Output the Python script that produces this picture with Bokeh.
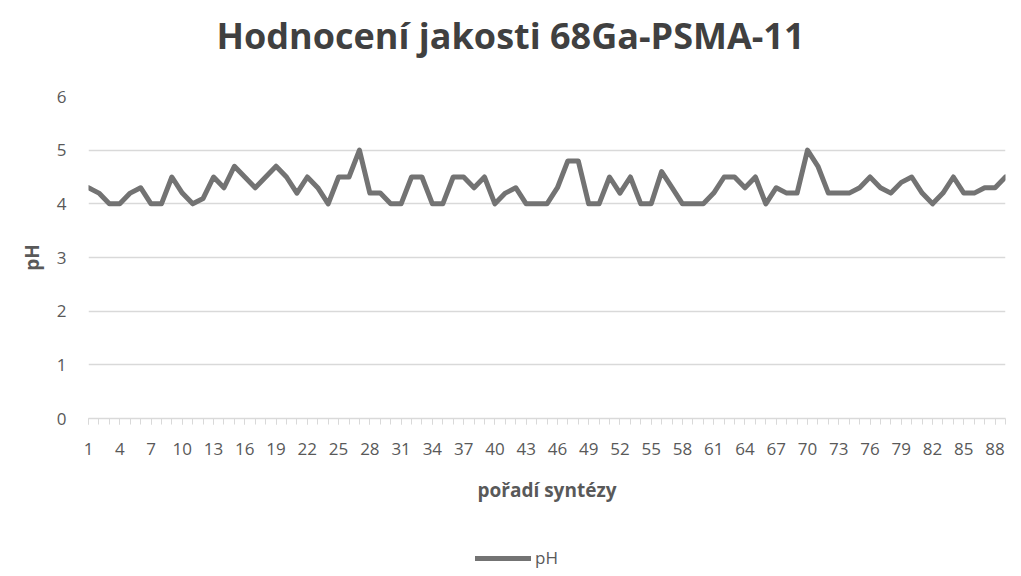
from bokeh.plotting import figure
from bokeh.models import Range1d, FixedTicker, Legend, LegendItem, Label
from bokeh.layouts import column
from bokeh.embed import file_html
from bokeh.resources import INLINE

# Data
synthesis = list(range(1, 90))
ph = [4.3, 4.2, 4.0, 4.0, 4.2, 4.3, 4.0, 4.0, 4.5, 4.2,
      4.0, 4.1, 4.5, 4.3, 4.7, 4.5, 4.3, 4.5, 4.7, 4.5,
      4.2, 4.5, 4.3, 4.0, 4.5, 4.5, 5.0, 4.2, 4.2, 4.0,
      4.0, 4.5, 4.5, 4.0, 4.0, 4.5, 4.5, 4.3, 4.5, 4.0,
      4.2, 4.3, 4.0, 4.0, 4.0, 4.3, 4.8, 4.8, 4.0, 4.0,
      4.5, 4.2, 4.5, 4.0, 4.0, 4.6, 4.3, 4.0, 4.0, 4.0,
      4.2, 4.5, 4.5, 4.3, 4.5, 4.0, 4.3, 4.2, 4.2, 5.0,
      4.7, 4.2, 4.2, 4.2, 4.3, 4.5, 4.3, 4.2, 4.4, 4.5,
      4.2, 4.0, 4.2, 4.5, 4.2, 4.2, 4.3, 4.3, 4.5]
x_tick_labels = list(range(1, 90, 3))
y_ticks = [0, 1, 2, 3, 4, 5, 6]

title_text = "Hodnocení jakosti 68Ga-PSMA-11"
x_title = "pořadí syntézy"
y_title = "pH"
series_name = "pH"

FONT = "Open Sans"
TXT = "#595959"
GRID = "#d9d9d9"
LINE = "#737373"
W = 1021


def strip(h):
    f = figure(width=W, height=h, x_range=Range1d(0, 1), y_range=Range1d(100, 101),
               output_backend="svg", toolbar_location=None,
               x_axis_location=None, y_axis_location=None,
               min_border_left=0, min_border_right=0,
               min_border_top=0, min_border_bottom=0)
    f.grid.visible = False
    f.outline_line_color = None
    return f


# title strip
tf = strip(70)
tf.add_layout(Label(x=422, y=35, x_units="screen", y_units="screen",
                    text=title_text, text_align="center", text_baseline="middle",
                    text_font=FONT, text_font_size="36px", text_font_style="bold",
                    text_color="#404040"))

# main chart
p = figure(width=W, height=466,
           x_range=Range1d(1, 89), y_range=Range1d(0, 6),
           output_backend="svg", toolbar_location=None,
           min_border_left=88, min_border_right=16,
           min_border_top=26, min_border_bottom=118)
p.outline_line_color = None
p.background_fill_color = "white"
p.border_fill_color = "white"

r = p.line(synthesis, ph, line_color=LINE, line_width=5,
           line_join="round", line_cap="round")

xa = p.xaxis[0]
xa.ticker = FixedTicker(ticks=x_tick_labels, minor_ticks=synthesis)
xa.axis_line_color = GRID
xa.axis_line_width = 1.5
xa.major_tick_line_color = GRID
xa.minor_tick_line_color = GRID
xa.major_tick_out = 6
xa.major_tick_in = 0
xa.minor_tick_out = 6
xa.minor_tick_in = 0
xa.major_label_text_font = FONT
xa.major_label_text_font_size = "17px"
xa.major_label_text_color = TXT
xa.major_label_standoff = 18
xa.axis_label = x_title
xa.axis_label_text_font = FONT
xa.axis_label_text_font_size = "19px"
xa.axis_label_text_font_style = "bold"
xa.axis_label_text_color = TXT
xa.axis_label_standoff = 19

ya = p.yaxis[0]
ya.ticker = FixedTicker(ticks=y_ticks)
ya.axis_line_color = None
ya.major_tick_line_color = None
ya.minor_tick_line_color = None
ya.major_label_text_font = FONT
ya.major_label_text_font_size = "17px"
ya.major_label_text_color = TXT
ya.major_label_standoff = 16
ya.axis_label = y_title
ya.axis_label_text_font = FONT
ya.axis_label_text_font_size = "19px"
ya.axis_label_text_font_style = "bold"
ya.axis_label_text_color = TXT
ya.axis_label_standoff = 9

p.xgrid.grid_line_color = None
p.ygrid.ticker = FixedTicker(ticks=y_ticks)
p.ygrid.grid_line_color = GRID
p.ygrid.grid_line_width = 1.5

# legend strip (its line lies off-range, only the legend key shows)
lf = strip(40)
lr = lf.line(synthesis, ph, line_color=LINE, line_width=5, line_cap="round")
legend = Legend(items=[LegendItem(label=series_name, renderers=[lr])],
                location=(387, 7), orientation="horizontal")
legend.border_line_color = None
legend.background_fill_alpha = 0
legend.label_text_font = FONT
legend.label_text_font_size = "17px"
legend.label_text_color = TXT
legend.glyph_width = 56
legend.label_standoff = 4
legend.margin = 0
legend.padding = 0
lf.add_layout(legend, "center")

layout = column(tf, p, lf, spacing=0)
open("out.html", "w").write(file_html(layout, INLINE))
